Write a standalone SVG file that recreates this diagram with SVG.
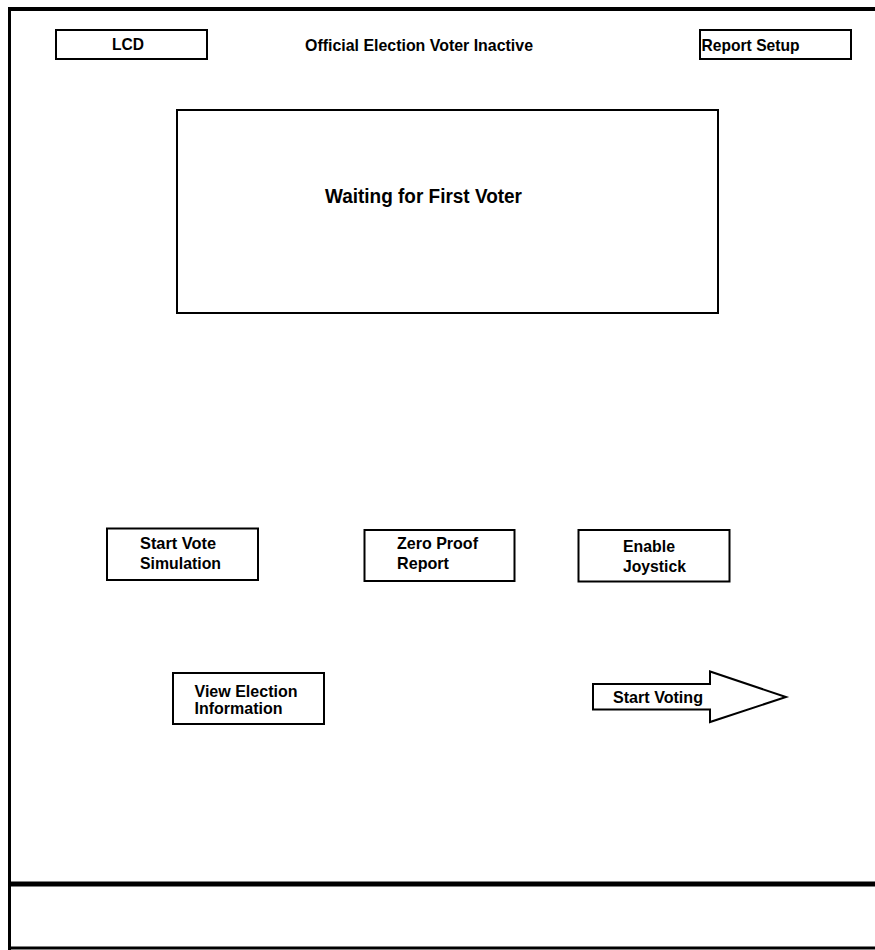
<svg xmlns="http://www.w3.org/2000/svg" width="875" height="950" viewBox="0 0 875 950">
<style>
.box{fill:#ffffff;stroke:#000;stroke-width:2}
.t{font-family:"Liberation Sans",Arial,sans-serif;font-weight:bold;font-size:17px;fill:#000}
.big{font-size:20px}
.frame{stroke:#000;fill:none}
</style>
<rect x="0" y="0" width="875" height="950" fill="#ffffff"/>
<g id="frame">
<line class="frame" x1="8" y1="9" x2="875" y2="9" stroke-width="4"/>
<line class="frame" x1="9.5" y1="7" x2="9.5" y2="950" stroke-width="3"/>
<line class="frame" x1="8" y1="884" x2="875" y2="884" stroke-width="5"/>
<line class="frame" x1="8" y1="948" x2="875" y2="948" stroke-width="3"/>
</g>
<g id="connectors"></g>
<g id="lcd">
<rect class="box" x="56" y="30" width="151" height="29"/>
<text class="t" x="112" y="49.5" textLength="32" lengthAdjust="spacingAndGlyphs">LCD</text>
</g>
<g id="title">
<text class="t" x="305" y="51" textLength="228" lengthAdjust="spacingAndGlyphs">Official Election Voter Inactive</text>
</g>
<g id="report-setup">
<rect class="box" x="700" y="30" width="151" height="29"/>
<text class="t" x="701.5" y="51" textLength="98" lengthAdjust="spacingAndGlyphs">Report Setup</text>
</g>
<g id="main-display">
<rect class="box" x="177" y="110" width="541" height="203"/>
<text class="t big" x="325" y="203" textLength="197" lengthAdjust="spacingAndGlyphs">Waiting for First Voter</text>
</g>
<g id="start-vote-simulation">
<rect class="box" x="107" y="528.5" width="151" height="51.5"/>
<text class="t" x="140" y="549" textLength="76" lengthAdjust="spacingAndGlyphs">Start Vote</text>
<text class="t" x="140" y="569" textLength="81" lengthAdjust="spacingAndGlyphs">Simulation</text>
</g>
<g id="zero-proof-report">
<rect class="box" x="364.5" y="530" width="150" height="51"/>
<text class="t" x="397" y="549" textLength="81" lengthAdjust="spacingAndGlyphs">Zero Proof</text>
<text class="t" x="397" y="569" textLength="52" lengthAdjust="spacingAndGlyphs">Report</text>
</g>
<g id="enable-joystick">
<rect class="box" x="578.5" y="530" width="151" height="51.5"/>
<text class="t" x="623" y="552" textLength="52" lengthAdjust="spacingAndGlyphs">Enable</text>
<text class="t" x="623" y="572" textLength="63" lengthAdjust="spacingAndGlyphs">Joystick</text>
</g>
<g id="view-election-information">
<rect class="box" x="173" y="673" width="151" height="51"/>
<text class="t" x="194.5" y="696.5" textLength="103" lengthAdjust="spacingAndGlyphs">View Election</text>
<text class="t" x="194.5" y="714" textLength="88" lengthAdjust="spacingAndGlyphs">Information</text>
</g>
<g id="start-voting">
<polygon class="box" points="593,684 710,684 710,671.5 786,697 710,722 710,709.5 593,709.5"/>
<text class="t" x="613" y="702.5" textLength="90" lengthAdjust="spacingAndGlyphs">Start Voting</text>
</g>
</svg>
